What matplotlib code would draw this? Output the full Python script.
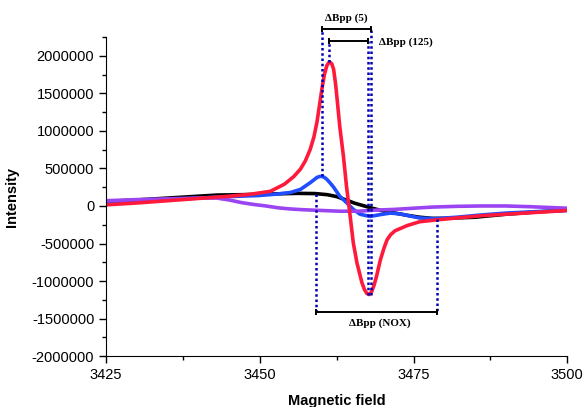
import numpy as np
import matplotlib.pyplot as plt

# field values (G) and intensities, one list pair per spectrum
red_b = [3425, 3430, 3435, 3440, 3445, 3448.4, 3451.7, 3454, 3455.5, 3456.6, 3457.4, 3458.2,
         3458.8, 3459.3, 3459.7, 3460.1, 3460.5, 3460.9, 3461.3, 3461.7, 3462.0, 3462.3, 3462.6,
         3463.0, 3463.6, 3464.1, 3464.7, 3465.2, 3465.8, 3466.6, 3467.0, 3467.4, 3467.8, 3468.2,
         3468.6, 3469.0, 3469.6, 3470.2, 3470.7, 3471.3, 3472, 3474, 3476, 3478.8, 3482, 3486,
         3490, 3495, 3500]
red_i = [15000, 40000, 70000, 100000, 130000, 155000, 195000, 290000, 390000, 490000, 600000, 755000,
         920000, 1120000, 1340000, 1560000, 1750000, 1870000, 1920000, 1895000, 1820000, 1640000, 1400000,
         1060000, 660000, 260000, -140000, -490000, -760000, -1020000, -1110000, -1165000, -1180000, -1140000,
         -1050000, -930000, -720000, -560000, -450000, -380000, -330000, -260000, -210000, -185000, -160000, -130000,
         -110000, -85000, -60000]

blue_b = [3425, 3430, 3435, 3440, 3445, 3450, 3453, 3455, 3456.6, 3458.2, 3459.3, 3459.7, 3460.1,
          3460.5, 3460.9, 3461.5, 3462, 3463, 3464.1, 3465.2, 3466.3, 3467.9, 3469.6, 3471.2, 3472.8,
          3474.5, 3476, 3478.5, 3482, 3486, 3490, 3495, 3500]
blue_i = [50000, 65000, 85000, 105000, 125000, 140000, 160000, 180000, 220000, 310000, 380000, 392000, 395000,
          380000, 355000, 300000, 250000, 130000, 45000, -45000, -110000, -140000, -115000, -95000, -105000,
          -135000, -160000, -170000, -150000, -120000, -95000, -75000, -60000]

black_b = [3425, 3430, 3435, 3440, 3443, 3447, 3452, 3456, 3459, 3461, 3462.5, 3464, 3465.5,
           3467, 3468.5, 3470, 3472, 3474, 3476, 3478, 3480, 3485, 3490, 3495, 3500]
black_i = [60000, 80000, 105000, 130000, 145000, 150000, 160000, 168000, 165000, 150000, 125000,
           80000, 35000, 0, -35000, -65000, -95000, -125000, -150000, -165000, -165000, -150000,
           -110000, -80000, -55000]

purple_b = [3425, 3430, 3435, 3440, 3443, 3445, 3447, 3449, 3451, 3453, 3455, 3457, 3460, 3463,
            3466, 3469, 3472, 3475, 3478, 3482, 3486, 3490, 3494, 3497, 3500]
purple_i = [70000, 85000, 95000, 105000, 105000, 80000, 45000, 20000, 0, -25000, -40000, -50000,
            -60000, -70000, -70000, -55000, -45000, -30000, -15000, -5000, 0, 0, -10000, -20000, -30000]

# linewidth markers: (label, left field, right field, bar height)
bar_labels = ['\u0394Bpp (5)', '\u0394Bpp (125)', '\u0394Bpp (NOX)']
bar_left = [3460.1, 3461.3, 3459.2]
bar_right = [3468.1, 3467.6, 3478.8]
bar_y = [2360000, 2200000, -1410000]
# where each dotted guide meets its curve
guide_from = [[395000, -1180000], [1920000, -1180000], [160000, -170000]]

plt.rcParams['font.family'] = ['Liberation Sans', 'DejaVu Sans']

fig = plt.figure(figsize=(5.83, 4.07), dpi=100)
ax = fig.add_axes([0.182, 0.125, 0.791, 0.784])

lw = 2.6
ax.plot(black_b, black_i, color='black', lw=lw)
ax.plot(blue_b, blue_i, color='#1f4dff', lw=lw)
ax.plot(purple_b, purple_i, color='#9b45f2', lw=lw)
ax.plot(red_b, red_i, color='#ff1a3c', lw=lw, solid_joinstyle='round')

navy = '#0000b4'
for k in range(3):
    for xx, y0 in zip([bar_left[k], bar_right[k]], guide_from[k]):
        ax.plot([xx, xx], [y0, bar_y[k]], color=navy, ls=(0, (1, 1.1)), lw=1.8, clip_on=False)
    ax.plot([bar_left[k], bar_right[k]], [bar_y[k], bar_y[k]], color='black', lw=1.4,
            marker='|', ms=5, mew=1.4, clip_on=False)

tfont = dict(family='Liberation Serif', fontweight='bold', fontsize=8)
ax.text((bar_left[0] + bar_right[0]) / 2, bar_y[0] + 80000, bar_labels[0], ha='center', va='bottom', **tfont)
ax.text(bar_right[1] + 1.8, bar_y[1] - 20000, bar_labels[1], ha='left', va='center', **tfont)
ax.text((bar_left[2] + bar_right[2]) / 2 + 0.5, bar_y[2] - 90000, bar_labels[2], ha='center', va='top', **tfont)

ax.set_xlim(3425, 3500)
ax.set_ylim(-2000000, 2250000)
ax.set_xticks([3425, 3450, 3475, 3500])
ax.set_xticks([3437.5, 3462.5, 3487.5], minor=True)
ax.set_yticks(np.arange(-2000000, 2000001, 500000))
ax.set_yticks(np.arange(-1750000, 2250001, 500000), minor=True)
ax.yaxis.set_major_formatter(plt.FuncFormatter(lambda v, p: '%d' % v))
ax.tick_params(which='major', length=5, width=1, labelsize=10.5, direction='out')
ax.tick_params(which='minor', length=3, width=1, direction='out')
ax.spines['top'].set_visible(False)
ax.spines['right'].set_visible(False)

ax.set_xlabel('Magnetic field', fontsize=10.5, fontweight='bold', labelpad=9)
ax.set_ylabel('Intensity', fontsize=10.5, fontweight='bold', labelpad=9)

fig.savefig('out.png', dpi=100)
